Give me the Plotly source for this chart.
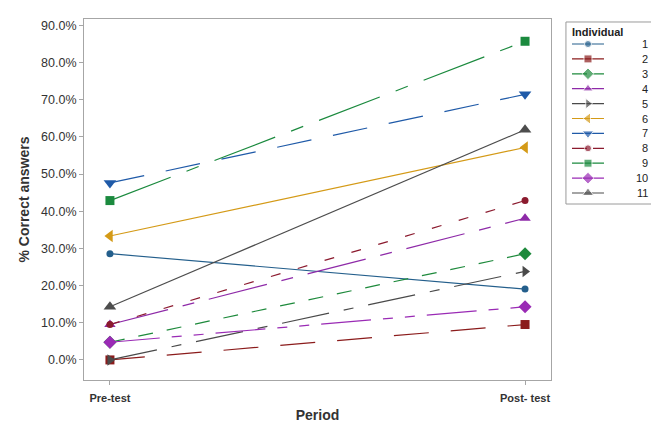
import plotly.graph_objects as go

periods = ["Pre-test", "Post- test"]
individuals = ["1", "2", "3", "4", "5", "6", "7", "8", "9", "10", "11"]
pre_test = [0.2857, 0.0, 0.0476, 0.0952, 0.0, 0.3333, 0.4762, 0.0952, 0.4286, 0.0476, 0.1429]
post_test = [0.1905, 0.0952, 0.2857, 0.3810, 0.2381, 0.5714, 0.7143, 0.4286, 0.8571, 0.1429, 0.6190]
y_ticks = [0.0, 0.1, 0.2, 0.3, 0.4, 0.5, 0.6, 0.7, 0.8, 0.9]

colors = ["#245f8c", "#8b1c1c", "#1e8a3c", "#8e2aa8", "#4a4a4a", "#d49a17",
          "#1f5aa8", "#8b1a2e", "#1b8a3e", "#9a2bb5", "#4d4d4d"]
symbols = ["circle", "square", "diamond", "triangle-up", "triangle-right", "triangle-left",
           "triangle-down", "circle", "square", "diamond", "triangle-up"]
sizes = [7, 9, 10, 10, 10, 11, 11, 7, 9, 10, 11]
legend_sizes = [7, 8, 9, 9, 9, 10, 10, 7, 8, 9, 10]
dashes = ["solid", "35px,22px", "15px,14px", "60px,15px,12px,15px", "48px,15px,10px,15px",
          "solid", "35px,22px", "10px,18px", "65px,17px,13px,17px",
          "50px,12px,10px,12px,10px,12px", "solid"]
legend_dashes = ["solid", "solid", "15px,6px", "solid", "solid", "solid",
                 "solid", "15px,6px", "solid", "solid", "solid"]

fig = go.Figure()

# main chart
for i, name in enumerate(individuals):
    fig.add_trace(go.Scatter(
        x=periods, y=[pre_test[i], post_test[i]],
        mode="lines+markers", name=name, showlegend=False,
        line=dict(color=colors[i], width=1.2, dash=dashes[i]),
        marker=dict(symbol=symbols[i], size=sizes[i], color=colors[i]),
        xaxis="x", yaxis="y",
    ))

# legend samples drawn on a small helper axis
for i, name in enumerate(individuals):
    fig.add_trace(go.Scatter(
        x=[0, 0.5, 1], y=[i + 1, i + 1, i + 1],
        mode="lines+markers", showlegend=False, hoverinfo="skip",
        line=dict(color=colors[i], width=1.2, dash=legend_dashes[i]),
        marker=dict(symbol=symbols[i], size=[0, legend_sizes[i], 0], color=colors[i]),
        xaxis="x2", yaxis="y2", cliponaxis=False,
    ))
    fig.add_annotation(x=2.44, y=i + 1, xref="x2", yref="y2", text=name,
                       showarrow=False, xanchor="right", yanchor="middle",
                       font=dict(size=11, color="#222222"))

fig.add_annotation(x=-0.06, y=0.2, xref="x2", yref="y2", text="<b>Individual</b>",
                   showarrow=False, xanchor="left", yanchor="middle",
                   font=dict(size=11, color="#222222"))

fig.add_shape(type="rect", xref="paper", yref="paper",
              x0=0.850, x1=1.02, y0=0.4875, y1=0.9917,
              line=dict(color="#9a9a9a", width=1), fillcolor="rgba(0,0,0,0)")

fig.update_layout(
    width=651, height=423,
    margin=dict(l=84, r=0, t=19, b=43),
    paper_bgcolor="white", plot_bgcolor="white",
    font=dict(family="Liberation Sans, Arial, sans-serif", color="#333333", size=12),
    showlegend=False,
    xaxis=dict(
        type="category", range=[-0.0625, 1.0625], domain=[0, 0.8236], automargin=False,
        showline=True, linecolor="#a6a6a6", linewidth=1, mirror=True,
        ticks="outside", ticklen=4, tickcolor="#a6a6a6", ticklabelstandoff=4,
        tickfont=dict(size=11, color="#333333"),
        tickprefix="<b>", ticksuffix="</b>",
        title=dict(text="<b>Period</b>", font=dict(size=14), standoff=6),
        showgrid=False, zeroline=False,
    ),
    yaxis=dict(
        range=[-0.054, 0.917], tickvals=y_ticks, tickformat=".1%", automargin=False,
        showline=True, linecolor="#a6a6a6", linewidth=1, mirror=True,
        ticks="outside", ticklen=4, tickcolor="#a6a6a6",
        tickfont=dict(size=12.5, color="#333333"),
        title=dict(text="<b>% Correct answers</b>", font=dict(size=14), standoff=8),
        showgrid=False, zeroline=False,
    ),
    xaxis2=dict(domain=[0.8550, 0.9989], range=[-0.1, 2.45], visible=False,
                showgrid=False, zeroline=False, anchor="y2", fixedrange=True),
    yaxis2=dict(domain=[0.4974, 0.9926], range=[11.5, -0.5], visible=False,
                showgrid=False, zeroline=False, anchor="x2", fixedrange=True),
)

fig.write_html("out.html", config={"displayModeBar": False},
               post_script="document.body.style.margin='0';document.body.style.overflow='hidden';")
